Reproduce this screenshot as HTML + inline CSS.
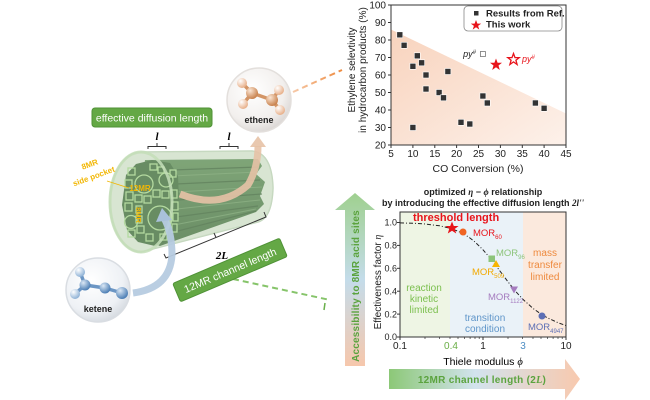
<!DOCTYPE html>
<html><head><meta charset="utf-8"><style>
html,body{margin:0;padding:0;background:#fff;}
svg{display:block;font-family:"Liberation Sans",Arial,sans-serif;}
</style></head><body>
<svg width="650" height="400" viewBox="0 0 650 400" xmlns="http://www.w3.org/2000/svg">
<defs>
<linearGradient id="vArrow" x1="0" y1="0" x2="0" y2="1">
<stop offset="0" stop-color="#9fd08f"/><stop offset="0.5" stop-color="#c4dcea"/><stop offset="1" stop-color="#f6c7ac"/>
</linearGradient>
<linearGradient id="hArrow" x1="0" y1="0" x2="1" y2="0">
<stop offset="0" stop-color="#8cc877"/><stop offset="0.45" stop-color="#d2e3ee"/><stop offset="1" stop-color="#f8c9ae"/>
</linearGradient>
<linearGradient id="shade" x1="0" y1="0" x2="1" y2="1">
<stop offset="0" stop-color="#f8d3bd"/><stop offset="1" stop-color="#fdf1ea"/>
</linearGradient>
<radialGradient id="sphere" cx="0.4" cy="0.35" r="0.7">
<stop offset="0" stop-color="#ffffff"/><stop offset="0.7" stop-color="#f2efed"/><stop offset="1" stop-color="#d8d4d2"/>
</radialGradient>
<radialGradient id="sphereB" cx="0.4" cy="0.35" r="0.7">
<stop offset="0" stop-color="#ffffff"/><stop offset="0.7" stop-color="#eef1f5"/><stop offset="1" stop-color="#d3d8de"/>
</radialGradient>
<radialGradient id="cO" cx="0.35" cy="0.3" r="0.7">
<stop offset="0" stop-color="#fbe6d4"/><stop offset="1" stop-color="#c9834f"/>
</radialGradient>
<radialGradient id="hO" cx="0.35" cy="0.3" r="0.7">
<stop offset="0" stop-color="#ffffff"/><stop offset="1" stop-color="#e8b08a"/>
</radialGradient>
<radialGradient id="cB" cx="0.35" cy="0.3" r="0.7">
<stop offset="0" stop-color="#dbe8f5"/><stop offset="1" stop-color="#4d7fb5"/>
</radialGradient>
<radialGradient id="hB" cx="0.35" cy="0.3" r="0.7">
<stop offset="0" stop-color="#ffffff"/><stop offset="1" stop-color="#8fb2d6"/>
</radialGradient>
<linearGradient id="dashO" x1="0" y1="0" x2="1" y2="0">
<stop offset="0" stop-color="#f6c9a8"/><stop offset="1" stop-color="#ee8a3e"/>
</linearGradient>
<linearGradient id="prism" x1="0" y1="0" x2="0" y2="1">
<stop offset="0" stop-color="#5c8b55"/><stop offset="1" stop-color="#3f6a3b"/>
</linearGradient>
</defs>

<!-- dashed connectors -->
<line x1="293" y1="92" x2="342" y2="70" stroke="url(#dashO)" stroke-width="2" stroke-dasharray="6 4"/>
<line x1="233" y1="279" x2="330" y2="300" stroke="#86c46a" stroke-width="2" stroke-dasharray="6 4"/>

<!-- effective diffusion length box -->
<rect x="92" y="108" width="120" height="19" rx="3" fill="#64a845" stroke="#4f9236" stroke-width="1"/>
<text x="152" y="121.5" font-size="10.5" fill="#fff" text-anchor="middle">effective diffusion length</text>

<!-- l brackets -->
<text x="157" y="140" font-size="11" font-style="italic" font-weight="bold" font-family="Liberation Serif,serif" text-anchor="middle">l</text>
<path d="M148,149 L148,146.5 L166,146.5 L166,149 M157,146.5 L157,143" fill="none" stroke="#333" stroke-width="1"/>
<text x="229" y="140" font-size="11" font-style="italic" font-weight="bold" font-family="Liberation Serif,serif" text-anchor="middle">l</text>
<path d="M220,149 L220,146.5 L238,146.5 L238,149 M229,146.5 L229,143" fill="none" stroke="#333" stroke-width="1"/>

<!-- glass cylinder back -->
<path d="M141,152 L252,151 Q272,153 273,188 Q272,218 258,222 L141,252 A31,50 0 0 1 141,152 Z" fill="#d7e4d2" stroke="#c3d6bd" stroke-width="1.5"/>

<!-- prism body -->
<path d="M145,160 L258,159 L262,166 L256,174 L265,182 L260,196 L264,204 L256,212 L160,246 L136,238 Z" fill="url(#prism)"/>
<g stroke="#355c32" stroke-width="1.2" opacity="0.8">
<line x1="172" y1="170" x2="258" y2="167"/>
<line x1="176" y1="184" x2="260" y2="180"/>
<line x1="178" y1="200" x2="262" y2="194"/>
<line x1="176" y1="217" x2="258" y2="206"/>
<line x1="170" y1="233" x2="256" y2="211"/>
</g>
<g stroke="#74a06b" stroke-width="1" opacity="0.7">
<line x1="172" y1="176" x2="258" y2="172"/>
<line x1="177" y1="192" x2="262" y2="187"/>
<line x1="177" y1="209" x2="260" y2="200"/>
<line x1="174" y1="225" x2="256" y2="209"/>
</g>

<!-- honeycomb face -->
<path d="M126,175 L136,164 L152,160 L170,163 L178,176 L179,200 L178,224 L170,240 L155,246 L138,242 L127,230 L122,205 Z" fill="#3c6838"/>
<g fill="none" stroke="#a5d48c" stroke-width="1.3">
<circle cx="144" cy="184" r="9"/>
<circle cx="160" cy="218" r="12"/>
<circle cx="131" cy="222" r="6.5"/>
<circle cx="166" cy="180" r="7"/>
<rect x="128" y="168" width="7" height="7"/>
<rect x="150" y="164" width="7" height="6"/>
<rect x="158" y="167" width="6" height="6"/>
<rect x="170" y="170" width="6" height="7"/>
<rect x="125" y="180" width="7" height="8"/>
<rect x="126" y="192" width="7" height="8"/>
<rect x="135" y="195" width="7" height="7"/>
<rect x="144" y="196" width="7" height="7"/>
<rect x="153" y="190" width="7" height="7"/>
<rect x="162" y="191" width="7" height="7"/>
<rect x="171" y="190" width="6" height="8"/>
<rect x="125" y="203" width="7" height="8"/>
<rect x="136" y="206" width="6" height="7"/>
<rect x="136" y="216" width="6" height="7"/>
<rect x="137" y="226" width="7" height="7"/>
<rect x="172" y="202" width="6" height="8"/>
<rect x="173" y="213" width="5" height="8"/>
<rect x="172" y="224" width="5" height="8"/>
<rect x="128" y="230" width="7" height="7"/>
<rect x="146" y="234" width="7" height="7"/>
<rect x="160" y="234" width="7" height="6"/>
</g>

<!-- glass overlay -->
<path d="M141,152 L252,151 Q272,153 273,188 Q272,218 258,222 L141,252 A31,50 0 0 1 141,152 Z" fill="#dbe9d5" opacity="0.28"/>
<ellipse cx="141" cy="202" rx="31" ry="50" fill="none" stroke="#c4deb8" stroke-width="3" opacity="0.85"/>

<!-- labels on face -->
<g fill="#f2b705" font-weight="bold">
<text x="90" y="167" font-size="8" text-anchor="middle" transform="rotate(-20 90 165)">8MR</text>
<text x="94" y="179" font-size="8" text-anchor="middle" transform="rotate(-20 94 177)">side pocket</text>
<text x="140" y="191" font-size="8" text-anchor="middle">12MR</text>
<text x="139" y="218" font-size="7.5" text-anchor="middle" transform="rotate(90 139 215)">8MR</text>
</g>
<line x1="107" y1="181" x2="129" y2="188" stroke="#f2b705" stroke-width="0.8"/>

<!-- beige curved arrow -->
<path d="M180,194 Q220,210 248,185 Q258,168 258,146" fill="none" stroke="#e7c2a6" stroke-width="7" opacity="0.9"/>
<path d="M250,147 L258,136 L266,147 Z" fill="#e7c2a6" opacity="0.9"/>

<!-- 2L bracket -->
<path d="M164,254 L166,258 L266,217 L264,212" fill="none" stroke="#333" stroke-width="1"/>
<line x1="216" y1="237.5" x2="214" y2="233" stroke="#333" stroke-width="1"/>
<text x="222" y="259" font-size="11" font-weight="bold" font-style="italic" font-family="Liberation Serif,serif" text-anchor="middle">2L</text>

<!-- 12MR channel length box -->
<g transform="translate(230,270) rotate(-23)">
<rect x="-58" y="-10" width="116" height="20" rx="2" fill="#64a845" stroke="#4f9236"/>
<text x="0" y="4" font-size="10.5" fill="#fff" text-anchor="middle">12MR channel length</text>
</g>

<!-- ethene bubble -->
<circle cx="259" cy="100" r="32" fill="url(#sphere)" stroke="#e3dfdc" stroke-width="1.5"/>
<g stroke="#d39566" stroke-width="3.5" stroke-linecap="round">
<line x1="252" y1="93" x2="272" y2="100"/>
<line x1="252" y1="93" x2="242" y2="83"/>
<line x1="252" y1="93" x2="243" y2="104"/>
<line x1="272" y1="100" x2="279" y2="90"/>
<line x1="272" y1="100" x2="280" y2="110"/>
</g>
<circle cx="242" cy="83" r="5" fill="url(#hO)"/>
<circle cx="243" cy="104" r="5" fill="url(#hO)"/>
<circle cx="279" cy="90" r="5" fill="url(#hO)"/>
<circle cx="280" cy="110" r="5" fill="url(#hO)"/>
<circle cx="252" cy="93" r="6" fill="url(#cO)"/>
<circle cx="272" cy="100" r="6" fill="url(#cO)"/>
<text x="259" y="123" font-size="9" font-weight="bold" text-anchor="middle" fill="#222">ethene</text>

<!-- blue curved arrow -->
<path d="M133,293 Q170,288 172,255 Q172,232 164,218" fill="none" stroke="#b6cbe0" stroke-width="7" opacity="0.95"/>
<path d="M156,222 L162,208 L172,220 Z" fill="#a9c1da"/>

<!-- ketene bubble -->
<circle cx="98" cy="290" r="32" fill="url(#sphereB)" stroke="#d9dde2" stroke-width="1.5"/>
<g stroke="#6c96c4" stroke-width="3.5" stroke-linecap="round">
<line x1="85" y1="285" x2="80" y2="272"/>
<line x1="85" y1="285" x2="75" y2="294"/>
<line x1="85" y1="285" x2="105" y2="288"/>
<line x1="105" y1="288" x2="122" y2="293"/>
</g>
<circle cx="80" cy="272" r="5" fill="url(#hB)"/>
<circle cx="75" cy="294" r="5" fill="url(#hB)"/>
<circle cx="85" cy="285" r="5.5" fill="url(#cB)"/>
<circle cx="105" cy="288" r="5.5" fill="url(#cB)"/>
<circle cx="122" cy="293" r="6" fill="url(#cB)"/>
<text x="98" y="312" font-size="9" font-weight="bold" text-anchor="middle" fill="#222">ketene</text>

<!-- ================= SCATTER PLOT ================= -->
<polygon points="391,29.5 566,113.5 566,145 391,145" fill="url(#shade)"/>
<rect x="391" y="5" width="175" height="140" fill="none" stroke="#333" stroke-width="1"/>
<g stroke="#333" stroke-width="1">
<line x1="388" y1="5" x2="391" y2="5"/><line x1="388" y1="22.5" x2="391" y2="22.5"/>
<line x1="388" y1="40" x2="391" y2="40"/><line x1="388" y1="57.5" x2="391" y2="57.5"/>
<line x1="388" y1="75" x2="391" y2="75"/><line x1="388" y1="92.5" x2="391" y2="92.5"/>
<line x1="388" y1="110" x2="391" y2="110"/><line x1="388" y1="127.5" x2="391" y2="127.5"/>
<line x1="388" y1="145" x2="391" y2="145"/>
<line x1="391" y1="145" x2="391" y2="148"/><line x1="412.9" y1="145" x2="412.9" y2="148"/>
<line x1="434.8" y1="145" x2="434.8" y2="148"/><line x1="456.6" y1="145" x2="456.6" y2="148"/>
<line x1="478.5" y1="145" x2="478.5" y2="148"/><line x1="500.4" y1="145" x2="500.4" y2="148"/>
<line x1="522.3" y1="145" x2="522.3" y2="148"/><line x1="544.1" y1="145" x2="544.1" y2="148"/>
<line x1="566" y1="145" x2="566" y2="148"/>
</g>
<g font-size="10" fill="#222" text-anchor="end">
<text x="386" y="8.5">100</text><text x="386" y="26">90</text><text x="386" y="43.5">80</text>
<text x="386" y="61">70</text><text x="386" y="78.5">60</text><text x="386" y="96">50</text>
<text x="386" y="113.5">40</text><text x="386" y="131">30</text><text x="386" y="148.5">20</text>
</g>
<g font-size="10" fill="#222" text-anchor="middle">
<text x="391" y="157">5</text><text x="412.9" y="157">10</text><text x="434.8" y="157">15</text>
<text x="456.6" y="157">20</text><text x="478.5" y="157">25</text><text x="500.4" y="157">30</text>
<text x="522.3" y="157">35</text><text x="544.1" y="157">40</text><text x="566" y="157">45</text>
<text x="478" y="172" font-size="10.5">CO Conversion (%)</text>
</g>
<g font-size="10" fill="#222" text-anchor="middle">
<text transform="translate(355,70) rotate(-90)">Ethylene selevtivity</text>
<text transform="translate(366,70) rotate(-90)">in hydrocarbon products (%)</text>
</g>
<g fill="#333" stroke="#fff" stroke-width="0.6">
<rect x="396.8" y="31.8" width="6" height="6"/><rect x="401.1" y="42.3" width="6" height="6"/>
<rect x="409.9" y="63.3" width="6" height="6"/><rect x="414.3" y="52.8" width="6" height="6"/>
<rect x="418.6" y="59.8" width="6" height="6"/><rect x="423" y="72" width="6" height="6"/>
<rect x="423" y="86" width="6" height="6"/><rect x="409.9" y="124.5" width="6" height="6"/>
<rect x="436.1" y="89.5" width="6" height="6"/><rect x="440.5" y="94.8" width="6" height="6"/>
<rect x="444.9" y="68.5" width="6" height="6"/><rect x="458" y="119.3" width="6" height="6"/>
<rect x="466.8" y="121" width="6" height="6"/><rect x="479.9" y="93" width="6" height="6"/>
<rect x="484.3" y="100" width="6" height="6"/><rect x="532.4" y="100" width="6" height="6"/>
<rect x="541.1" y="105.3" width="6" height="6"/>
</g>
<rect x="480.4" y="51.5" width="5" height="5" fill="#fff" stroke="#777" stroke-width="0.8"/>
<text x="476" y="57" font-size="9" font-style="italic" fill="#222" text-anchor="end">py<tspan font-size="6" dy="-3">#</tspan></text>
<polygon points="496,58.5 497.6,62.8 502,62.8 498.5,65.5 499.8,70 496,67.3 492.2,70 493.5,65.5 490,62.8 494.4,62.8" fill="#e8141b"/>
<polygon points="513.5,53.5 515,57.6 519.2,57.6 515.9,60.2 517.1,64.5 513.5,61.9 509.9,64.5 511.1,60.2 507.8,57.6 512,57.6" fill="#fff" stroke="#e8141b" stroke-width="1.3"/>
<text x="522" y="62" font-size="9" font-style="italic" fill="#e8141b">py<tspan font-size="6" dy="-3">#</tspan></text>
<!-- legend -->
<rect x="464" y="6" width="98" height="25" rx="4" fill="#fff" stroke="#888" stroke-width="0.8"/>
<rect x="474" y="11" width="4.5" height="4.5" fill="#333"/>
<text x="486" y="16.5" font-size="9.5" font-weight="bold" fill="#222">Results from Ref.</text>
<polygon points="476,20 477.4,23.6 481.2,23.6 478.1,25.9 479.3,29.6 476,27.3 472.7,29.6 473.9,25.9 470.8,23.6 474.6,23.6" fill="#e8141b"/>
<text x="486" y="27.5" font-size="9.5" font-weight="bold" fill="#222">This work</text>

<!-- ================= VERTICAL ARROW ================= -->
<path d="M355,193 L375,210 L365,210 L365,366 L345,366 L345,210 L335,210 Z" fill="url(#vArrow)"/>
<text transform="translate(359,286) rotate(-90)" font-size="10" font-weight="bold" fill="#5ba33e" text-anchor="middle" letter-spacing="0.2">Accessibility to 8MR acid sites</text>
<line x1="325" y1="303" x2="324" y2="310" stroke="#6ab04c" stroke-width="1.5"/>

<!-- ================= HORIZONTAL ARROW ================= -->
<path d="M389,369 L565,369 L565,359 L580,379 L565,400 L565,389 L389,389 Z" fill="url(#hArrow)"/>
<text x="482" y="383" font-size="10" font-weight="bold" fill="#5ba33e" text-anchor="middle" letter-spacing="0.3">12MR channel length (2<tspan font-style="italic" font-family="Liberation Serif,serif">L</tspan>)</text>

<!-- ================= ETA-PHI PLOT ================= -->
<text x="483" y="195" font-size="9" font-weight="bold" fill="#222" text-anchor="middle">optimized <tspan font-style="italic" font-family="Liberation Serif,serif">η</tspan> − <tspan font-style="italic" font-family="Liberation Serif,serif">ϕ</tspan> relationship</text>
<text x="483" y="206" font-size="9" font-weight="bold" fill="#222" text-anchor="middle">by introducing the effective diffusion length  <tspan font-style="italic" font-family="Liberation Serif,serif">2l''</tspan></text>
<rect x="400" y="212" width="50" height="125" fill="#eef5e4"/>
<rect x="450" y="212" width="73" height="125" fill="#eaf2f8"/>
<rect x="523" y="212" width="43" height="125" fill="#fbe9dd"/>
<rect x="400" y="212" width="166" height="125" fill="none" stroke="#333" stroke-width="1"/>
<g stroke="#333" stroke-width="1">
<line x1="397" y1="222.5" x2="400" y2="222.5"/><line x1="397" y1="245.4" x2="400" y2="245.4"/>
<line x1="397" y1="268.3" x2="400" y2="268.3"/><line x1="397" y1="291.2" x2="400" y2="291.2"/>
<line x1="397" y1="314.1" x2="400" y2="314.1"/><line x1="397" y1="337" x2="400" y2="337"/>
<line x1="400" y1="337" x2="400" y2="340"/><line x1="483" y1="337" x2="483" y2="340"/><line x1="566" y1="337" x2="566" y2="340"/>
</g>
<g stroke="#333" stroke-width="0.7">
<line x1="425" y1="337" x2="425" y2="339"/><line x1="439.6" y1="337" x2="439.6" y2="339"/>
<line x1="450" y1="337" x2="450" y2="339"/><line x1="458" y1="337" x2="458" y2="339"/>
<line x1="464.6" y1="337" x2="464.6" y2="339"/><line x1="470.1" y1="337" x2="470.1" y2="339"/>
<line x1="475" y1="337" x2="475" y2="339"/><line x1="479.2" y1="337" x2="479.2" y2="339"/>
<line x1="508" y1="337" x2="508" y2="339"/><line x1="522.6" y1="337" x2="522.6" y2="339"/>
<line x1="533" y1="337" x2="533" y2="339"/><line x1="541" y1="337" x2="541" y2="339"/>
<line x1="547.6" y1="337" x2="547.6" y2="339"/><line x1="553.1" y1="337" x2="553.1" y2="339"/>
<line x1="558" y1="337" x2="558" y2="339"/><line x1="562.2" y1="337" x2="562.2" y2="339"/>
</g>
<g font-size="9" fill="#222" text-anchor="end">
<text x="397" y="225.5">1.0</text><text x="397" y="248.5">0.8</text><text x="397" y="271.5">0.6</text>
<text x="397" y="294.5">0.4</text><text x="397" y="317.5">0.2</text><text x="397" y="340">0.0</text>
</g>
<g font-size="10" text-anchor="middle">
<text x="400" y="349" fill="#222">0.1</text>
<text x="451" y="349" fill="#6aae46">0.4</text>
<text x="483" y="349" fill="#222">1</text>
<text x="523" y="349" fill="#4f8ec4">3</text>
<text x="566" y="349" fill="#222">10</text>
<text x="483" y="365" font-size="10.5">Thiele modulus <tspan font-style="italic" font-family="Liberation Serif,serif">ϕ</tspan></text>
</g>
<text transform="translate(381,282) rotate(-90)" font-size="10" fill="#222" text-anchor="middle">Effectiveness factor <tspan font-style="italic" font-family="Liberation Serif,serif">η</tspan></text>

<polyline points="400,222.9 414.6,223.3 425,224 439.6,225.8 450,228.2 458,231.2 464.6,234.5 470.1,238.1 475,242 483,249.8 489.6,257.5 497.6,267.9 508,281.8 516,291.8 522.6,299 533,308.4 541,314.1 547.6,317.9 558,322.7 566,325.6" fill="none" stroke="#222" stroke-width="1" stroke-dasharray="4 2 1 2"/>

<!-- region labels -->
<g font-size="10" text-anchor="middle">
<text x="424" y="291" fill="#7bbf4e">reaction</text><text x="424" y="302" fill="#7bbf4e">kinetic</text><text x="424" y="313" fill="#7bbf4e">limited</text>
<text x="485" y="321" fill="#5f95c9">transition</text><text x="485" y="332" fill="#5f95c9">condition</text>
<text x="545" y="256" fill="#ee8a3e">mass</text><text x="545" y="268" fill="#ee8a3e">transfer</text><text x="545" y="280" fill="#ee8a3e">limited</text>
</g>
<text x="413" y="221" font-size="11" font-weight="bold" fill="#e8141b">threshold length</text>

<!-- markers -->
<polygon points="452,221.5 453.8,226 458.6,226 454.8,228.9 456.2,233.5 452,230.7 447.8,233.5 449.2,228.9 445.4,226 450.2,226" fill="#e8141b"/>
<circle cx="463" cy="232" r="3.5" fill="#f06423"/>
<rect x="488.5" y="255.5" width="6.5" height="6.5" fill="#8cc47a"/>
<polygon points="496,260 500,267 492,267" fill="#f7b500"/>
<polygon points="510,286.5 518,286.5 514,293.5" fill="#a57cbf"/>
<circle cx="542" cy="316" r="3.5" fill="#5d6fb5"/>

<g font-size="9.5">
<text x="473" y="236" fill="#e8141b">MOR<tspan font-size="6" dy="3">60</tspan></text>
<text x="496" y="256" fill="#8cc47a">MOR<tspan font-size="6" dy="3">96</tspan></text>
<text x="472" y="275" fill="#f2a900">MOR<tspan font-size="6" dy="3">509</tspan></text>
<text x="488" y="300" fill="#a57cbf">MOR<tspan font-size="6" dy="3">1122</tspan></text>
<text x="528" y="330" fill="#5d6fb5">MOR<tspan font-size="6" dy="3">4947</tspan></text>
</g>
</svg>
</body></html>
